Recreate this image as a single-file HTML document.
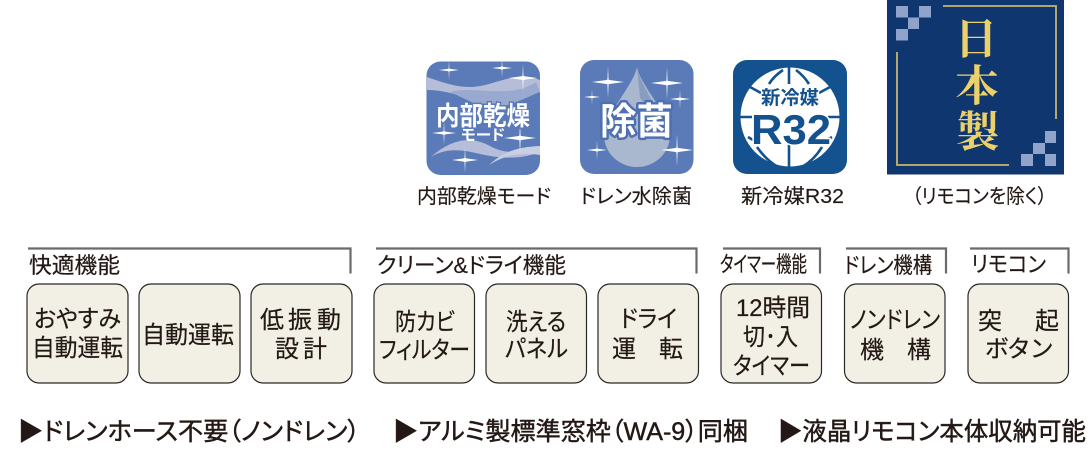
<!DOCTYPE html>
<html lang="ja"><head><meta charset="utf-8"><style>
html,body{margin:0;padding:0;background:#fff;width:1090px;height:450px;overflow:hidden}
svg{display:block}
text{font-family:"Liberation Sans","Noto Sans CJK JP",sans-serif;fill:#231815;font-feature-settings:"palt"}
.l{font-size:20px;stroke:#231815;stroke-width:.15}.t{font-size:22px;stroke:#231815;stroke-width:.2}.b{font-size:24px;stroke:#231815;stroke-width:.2}.f{font-size:25px;stroke:#231815;stroke-width:.45}
.btn{fill:#f2f0e5;stroke:#2a2826;stroke-width:1.2}
.br{fill:none;stroke:#6a6a6a;stroke-width:2.2}
</style></head><body>
<svg width="1090" height="450" viewBox="0 0 1090 450" xmlns="http://www.w3.org/2000/svg">
<defs>
<symbol id="sp" viewBox="-10 -10 20 20" overflow="visible"><path d="M0-10 L.35-1.3 L10 0 L.35 1.3 L0 10 L-.35 1.3 L-10 0 L-.35-1.3Z" fill="#fff"/><circle r="1.5" fill="#fff"/></symbol>
</defs>
<!-- icon 1 -->
<rect x="426.5" y="61.5" width="113.5" height="113.5" rx="14" fill="#5b7ab8"/>
<path d="M427 77C450 85 465 90 485 85S520 72 540 80V92C520 95 505 105 485 102S450 90 427 90Z" fill="#b6bdd8"/>
<path d="M450 92C475 85 510 100 536 82L540 92C520 100 500 112 480 106Z" fill="#9aa9cf"/>
<path d="M431 157C450 140 470 135 490 146S525 150 540 146V152C520 160 500 158 485 155S450 145 431 157Z" fill="#b6bdd8"/>
<path d="M489 165C505 150 520 147 540 146V155C520 152 505 155 489 165Z" fill="#c9cfe2"/>
<use href="#sp" x="439" y="60" width="20" height="20"/><use href="#sp" x="492" y="58" width="20" height="20"/><use href="#sp" x="509" y="64" width="28" height="28"/>
<use href="#sp" x="432" y="121" width="24" height="24"/><use href="#sp" x="504" y="122" width="32" height="32"/><use href="#sp" x="452" y="147" width="26" height="26"/>
<text x="436" y="125" font-size="26" font-weight="700" textLength="94" lengthAdjust="spacingAndGlyphs" style="fill:#fff;stroke:#5b7ab8;stroke-width:3;paint-order:stroke">内部乾燥</text>
<text x="461" y="140" font-size="15" font-weight="700" textLength="44" lengthAdjust="spacingAndGlyphs" style="fill:#fff">モード</text>
<text x="417" y="203" class="l" textLength="134" lengthAdjust="spacingAndGlyphs">内部乾燥モード</text>
<!-- icon 2 -->
<rect x="580" y="60" width="113.5" height="114" rx="14" fill="#5b7ab8"/>
<path d="M637 67C640 85 670 115 670 135A33 32 0 0 1 604 135C604 115 634 85 637 67Z" fill="#a9b8cf"/>
<path d="M637 67C640 85 655 98 653 112L640 98Z" fill="#8a9cc0"/>
<use href="#sp" x="592" y="66" width="32" height="32"/><use href="#sp" x="651" y="67" width="32" height="32"/><use href="#sp" x="584" y="89" width="16" height="16"/><use href="#sp" x="670" y="89" width="20" height="20"/><use href="#sp" x="587" y="140" width="20" height="20"/><use href="#sp" x="661" y="134" width="32" height="32"/>
<text x="600" y="134" font-size="37" font-weight="700" style="fill:#fff;stroke:#4f70b0;stroke-width:5;paint-order:stroke;stroke-linejoin:round" textLength="73" lengthAdjust="spacingAndGlyphs">除菌</text>
<text x="580" y="203" class="l" textLength="112" lengthAdjust="spacingAndGlyphs">ドレン水除菌</text>
<!-- icon 3 -->
<rect x="733" y="60" width="114" height="114" rx="14" fill="#13528f"/>
<circle cx="790" cy="117" r="49.5" fill="#fff"/>
<g fill="none" stroke="#13528f" stroke-width="2.6">
<path d="M789 67V84M789 143V168M740 117H752M828 117H840M783 70Q774 76 769 84M796 70Q804 76 809 84M750 87L761 93M830 87L819 93M757 147Q766 160 778 167M822 147Q814 160 802 167M748 137L758 143M832 137L822 143"/>
</g>
<text x="761" y="104" font-size="19" font-weight="700" textLength="58" lengthAdjust="spacingAndGlyphs" style="fill:#13528f;stroke:#fff;stroke-width:2;paint-order:stroke">新冷媒</text>
<text x="751" y="144" font-size="42" font-weight="700" textLength="80" lengthAdjust="spacingAndGlyphs" style="fill:#13528f;stroke:#fff;stroke-width:3;paint-order:stroke">R32</text>
<text x="741" y="203" class="l" textLength="103" lengthAdjust="spacingAndGlyphs">新冷媒R32</text>
<!-- icon 4 -->
<rect x="887" y="0" width="177" height="174.5" fill="#10366f"/>
<g fill="none" stroke="#c9b56a" stroke-width="1.8"><path d="M943 6H1056V119M897 52V165H1009"/></g>
<g fill="#8fa3cb"><rect x="896" y="6" width="12" height="11.5"/><rect x="919" y="6" width="12" height="11.5"/><rect x="908" y="17.500" width="11" height="11.5"/><rect x="896" y="29" width="12" height="11.500"/><rect x="1045" y="131" width="11" height="12"/><rect x="1033" y="143" width="12" height="11"/><rect x="1021" y="154" width="12" height="12"/><rect x="1045" y="154" width="11" height="12"/></g>
<g font-size="43" font-weight="700" text-anchor="middle">
<text x="976" y="54" style="fill:#ecd069;font-family:'Noto Serif CJK SC',serif">日</text>
<text x="977" y="101" style="fill:#ecd069;font-family:'Noto Serif CJK SC',serif">本</text>
<text x="978" y="147" style="fill:#ecd069;font-family:'Noto Serif CJK SC',serif">製</text></g>
<text x="912" y="203" class="l" textLength="135" lengthAdjust="spacingAndGlyphs">（リモコンを除く）</text>
<!-- brackets -->
<path class="br" d="M28 248.500H350.500V273.500"/><path class="br" d="M376 248.500H696.500V273.500"/><path class="br" d="M723 248.500H820V273.500"/><path class="br" d="M846 248.500H946V273.500"/><path class="br" d="M970 248.500H1068.500V273.500"/>
<text x="29" y="273" class="t" textLength="91" lengthAdjust="spacingAndGlyphs">快適機能</text>
<text x="377" y="273" class="t" textLength="189" lengthAdjust="spacingAndGlyphs">クリーン&amp;ドライ機能</text>
<text x="720" y="272" class="t" textLength="87" lengthAdjust="spacingAndGlyphs">タイマー機能</text>
<text x="844" y="273" class="t" textLength="88" lengthAdjust="spacingAndGlyphs">ドレン機構</text>
<text x="971" y="272" class="t" textLength="75" lengthAdjust="spacingAndGlyphs">リモコン</text>
<!-- buttons -->
<rect class="btn" x="27" y="284" width="101" height="99" rx="12"/><rect class="btn" x="139" y="284" width="101" height="99" rx="12"/><rect class="btn" x="251" y="284" width="101" height="99" rx="12"/><rect class="btn" x="374" y="284" width="100.500" height="99" rx="12"/><rect class="btn" x="486" y="284" width="100.500" height="99" rx="12"/><rect class="btn" x="598" y="284" width="100.500" height="99" rx="12"/><rect class="btn" x="721" y="284" width="100.500" height="99" rx="12"/><rect class="btn" x="844.500" y="284" width="100.500" height="99" rx="12"/><rect class="btn" x="968" y="284" width="100.500" height="99" rx="12"/>
<text class="b" x="34" y="327" textLength="87" lengthAdjust="spacingAndGlyphs">おやすみ</text>
<text class="b" x="32" y="356" textLength="91" lengthAdjust="spacingAndGlyphs">自動運転</text>
<text class="b" x="142" y="343" textLength="92" lengthAdjust="spacingAndGlyphs">自動運転</text>
<text class="b" x="260 288 317" y="328">低振動</text>
<text class="b" x="275 303" y="357">設計</text>
<text class="b" x="395" y="330" textLength="60" lengthAdjust="spacingAndGlyphs">防カビ</text>
<text class="b" x="379" y="358" textLength="91" lengthAdjust="spacingAndGlyphs">フィルター</text>
<text class="b" x="506" y="330" textLength="60" lengthAdjust="spacingAndGlyphs">洗える</text>
<text class="b" x="505" y="357" textLength="63" lengthAdjust="spacingAndGlyphs">パネル</text>
<text class="b" x="620" y="327" textLength="57" lengthAdjust="spacingAndGlyphs">ドライ</text>
<text class="b" x="612 659" y="357">運転</text>
<text class="b" x="736" y="316" textLength="74" lengthAdjust="spacingAndGlyphs">12時間</text>
<text class="b" x="743" y="345" textLength="55" lengthAdjust="spacingAndGlyphs">切･入</text>
<text class="b" x="733" y="374" textLength="77" lengthAdjust="spacingAndGlyphs">タイマー</text>
<text class="b" x="850" y="328" textLength="90" lengthAdjust="spacingAndGlyphs">ノンドレン</text>
<text class="b" x="860 907" y="358">機構</text>
<text class="b" x="978 1035" y="329">突起</text>
<text class="b" x="985 1008 1031" y="357">ボタン</text>
<!-- footer -->
<text class="f" x="18" y="440" textLength="342" lengthAdjust="spacingAndGlyphs">▶ドレンホース不要（ノンドレン）</text>
<text class="f" x="393" y="440" textLength="355" lengthAdjust="spacingAndGlyphs">▶アルミ製標準窓枠（WA-9）同梱</text>
<text class="f" x="778" y="440" textLength="308" lengthAdjust="spacingAndGlyphs">▶液晶リモコン本体収納可能</text>
</svg>
</body></html>
